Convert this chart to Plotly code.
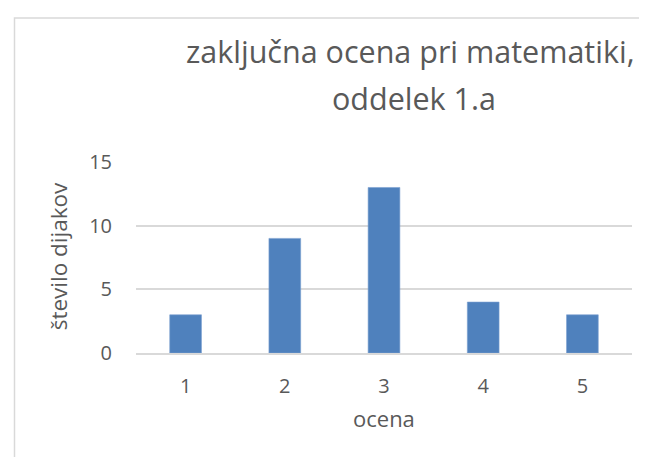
import plotly.graph_objects as go

categories = ["1", "2", "3", "4", "5"]
counts = [3, 9, 13, 4, 3]
y_ticks = [0, 5, 10, 15]

title_line1 = "zaključna ocena pri matematiki,"
title_line2 = "oddelek 1.a"
x_title = "ocena"
y_title = "število dijakov"

W, H = 647, 457
L, R, T, B = 128, 23, 153.5, 112
pw = W - L - R
ph = H - T - B

def px_x(px):
    return (px - L) / pw

def px_y(py):
    return (H - B - py) / ph

FONT = "Open Sans"
GREY = "#595959"

fig = go.Figure(
    go.Bar(
        x=categories,
        y=counts,
        marker=dict(color="#4F81BD", line=dict(color="#7A9FD0", width=0.6)),
        width=0.32,
    )
)

fig.update_layout(
    width=W,
    height=H,
    margin=dict(l=L, r=R, t=T, b=B),
    paper_bgcolor="white",
    plot_bgcolor="white",
    showlegend=False,
    font=dict(family=FONT, color=GREY),
    xaxis=dict(
        type="category",
        showgrid=False,
        showline=True,
        linecolor="#d9d9d9",
        linewidth=1.5,
        ticks="outside",
        ticklen=14,
        tickcolor="rgba(0,0,0,0)",
        tickfont=dict(size=20, color=GREY, family=FONT),
    ),
    yaxis=dict(
        range=[0, 15],
        tickvals=y_ticks,
        showgrid=True,
        gridcolor="#d9d9d9",
        gridwidth=1.5,
        zeroline=False,
        showline=False,
        ticks="outside",
        ticklen=19,
        tickcolor="rgba(0,0,0,0)",
        tickfont=dict(size=20, color=GREY, family=FONT),
    ),
    shapes=[
        dict(
            type="rect",
            xref="paper",
            yref="paper",
            x0=px_x(6.5),
            x1=px_x(700),
            y0=px_y(520),
            y1=px_y(9),
            line=dict(color="#d9d9d9", width=1.5),
            fillcolor="rgba(0,0,0,0)",
            layer="below",
        )
    ],
    annotations=[
        dict(
            text=title_line1,
            xref="paper",
            yref="paper",
            x=px_x(402),
            y=px_y(42),
            xanchor="center",
            yanchor="middle",
            showarrow=False,
            font=dict(size=30.5, color=GREY, family=FONT),
        ),
        dict(
            text=title_line2,
            xref="paper",
            yref="paper",
            x=px_x(406),
            y=px_y(89),
            xanchor="center",
            yanchor="middle",
            showarrow=False,
            font=dict(size=30.5, color=GREY, family=FONT),
        ),
        dict(
            text=x_title,
            xref="paper",
            yref="paper",
            x=0.5,
            y=px_y(410),
            xanchor="center",
            yanchor="middle",
            showarrow=False,
            font=dict(size=22, color=GREY, family=FONT),
        ),
        dict(
            text=y_title,
            xref="paper",
            yref="paper",
            x=px_x(50),
            y=px_y(248),
            xanchor="center",
            yanchor="middle",
            textangle=-90,
            showarrow=False,
            font=dict(size=22.5, color=GREY, family=FONT),
        ),
    ],
)

fig.write_html("out.html")
